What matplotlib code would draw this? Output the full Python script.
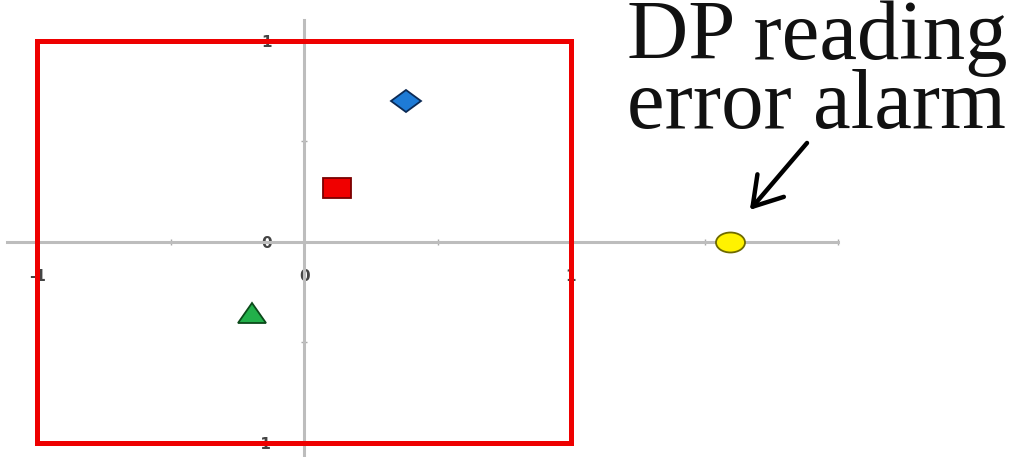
import matplotlib
matplotlib.use("Agg")
import matplotlib.pyplot as plt
from matplotlib.markers import MarkerStyle
from matplotlib.transforms import Affine2D

# points
pt_names = ["diamond", "square", "triangle", "alarm"]
pt_x = [0.38, 0.125, -0.195, 1.595]
pt_y = [0.70, 0.265, -0.355, 0.0]
pt_marker = ["D", "s", "^", "o"]
pt_face = ["#1E7BD6", "#F00000", "#22B04A", "#FFF200"]
pt_edge = ["#0B2A55", "#7A0000", "#0B4A1A", "#6E6A00"]

# limit box
box_x = [-1, 1, 1, -1, -1]
box_y = [-1, -1, 1, 1, -1]

tick_major = [-1, 0, 1]
tick_labels = ["-1", "0", "1"]
x_minor = [-0.5, 0.5, 1.5, 2.0]
y_minor = [-0.5, 0.5]

fig = plt.figure(figsize=(10.35, 4.57), dpi=100)
ax = fig.add_axes([0, 0, 1, 1])
ax.set_xlim(-1.139, 2.738)
ax.set_ylim(-1.071, 1.202)

for s in ["top", "right"]:
    ax.spines[s].set_visible(False)
ax.spines["left"].set_position(("data", 0))
ax.spines["bottom"].set_position(("data", 0))
ax.spines["left"].set_bounds(-1.1, 1.103)
ax.spines["bottom"].set_bounds(-1.112, 2.0)
for s in ["left", "bottom"]:
    ax.spines[s].set_color("#BDBDBD")
    ax.spines[s].set_linewidth(2.2)

ax.set_xticks(tick_major, tick_labels)
ax.set_yticks(tick_major, tick_labels)
ax.set_xticks(x_minor, minor=True)
ax.set_yticks(y_minor, minor=True)
ax.tick_params(which="both", direction="inout", length=5, width=1, color="#AAAAAA")
ax.tick_params(axis="x", which="major", pad=17)
ax.tick_params(axis="y", which="major", pad=21)
for lab in ax.get_xticklabels() + ax.get_yticklabels():
    lab.set_fontsize(11)
    lab.set_fontweight("bold")
    lab.set_color("#444444")

ax.plot(box_x, box_y, color="#EE0000", lw=3.6, solid_joinstyle="miter", zorder=3)

# markers in the picture are stretched sideways
stretch = {"D": 1.3, "s": 1.4, "^": 1.4, "o": 1.45}
msize = {"D": 11.5, "s": 14.4, "^": 14.4, "o": 14.4}
for x, y, m, fc, ec in zip(pt_x, pt_y, pt_marker, pt_face, pt_edge):
    ms = MarkerStyle(m, transform=Affine2D().scale(stretch[m], 1))
    ax.plot([x], [y], marker=ms, markersize=msize[m], color=fc,
            markeredgecolor=ec, markeredgewidth=1.3, linestyle="none", zorder=5)

fig.text(0.606, 1 - 128 / 457, "DP reading\nerror alarm", family="Liberation Serif",
         fontsize=61, ha="left", va="baseline", linespacing=0.87, color="#111111")

ax.annotate("", xy=(1.67, 0.158), xytext=(1.884, 0.491),
            arrowprops=dict(arrowstyle="->, head_length=0.8, head_width=0.5",
                            lw=3.2, color="black", mutation_scale=25,
                            shrinkA=0, shrinkB=0))

fig.savefig("out.png", dpi=100)
